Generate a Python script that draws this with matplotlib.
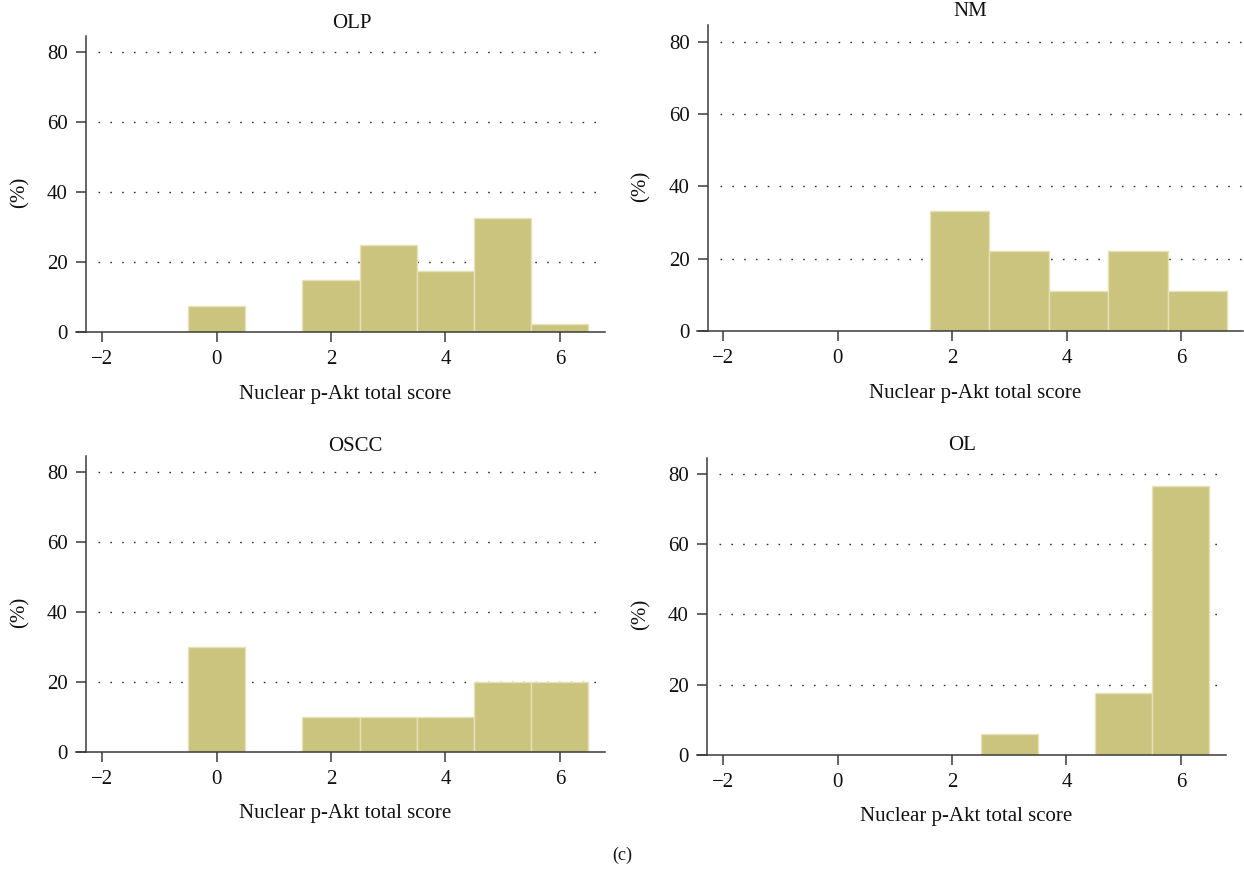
import matplotlib
matplotlib.use("Agg")
import matplotlib.pyplot as plt

plt.rcParams['font.family'] = ['Liberation Serif', 'DejaVu Serif']

# ---- data ----
titles = ["OLP", "NM", "OSCC", "OL"]
olp_scores = [0, 2, 3, 4, 5, 6]
olp_pct = [7.5, 15.0, 25.0, 17.5, 32.5, 2.5]
nm_bin_left = [1.61, 2.65, 3.69, 4.73, 5.77]
nm_pct = [33.3, 22.2, 11.1, 22.2, 11.1]
oscc_scores = [0, 2, 3, 4, 5, 6]
oscc_pct = [30.0, 10.0, 10.0, 10.0, 20.0, 20.0]
ol_scores = [3, 5, 6]
ol_pct = [5.9, 17.6, 76.5]
xticks = [-2, 0, 2, 4, 6]
yticks = [0, 20, 40, 60, 80]
xlabel = "Nuclear p-Akt total score"
ylabel = "(%)"
caption = "(c)"

BAR = "#cbc47f"
EDGE = "#e6e2b8"
AX = "#3a3a3a"

W, H = 1244, 869
fig = plt.figure(figsize=(W / 100, H / 100), dpi=100)

# pixel boxes: left, right, top, bottom
boxes = [
    (76, 605, 36, 332.3),
    (696.7, 1243, 25, 331.3),
    (76, 605, 456, 752),
    (697, 1226, 458.3, 754.7),
]
xlims = [(-2.46, 6.79), (-2.466, 7.085), (-2.46, 6.79), (-2.46, 6.79)]
ytops = [84.45, 84.6, 84.7, 84.5]
spine_x = [-2.285, -2.27, -2.29, -2.29]
title_pos = [(352, 24), (970, 12), (355, 446), (962, 445)]
xlabel_cx = [345, 975, 345, 966]

series = [
    (olp_scores, olp_pct, 1.0, 'center'),
    (nm_bin_left, nm_pct, 1.04, 'edge'),
    (oscc_scores, oscc_pct, 1.0, 'center'),
    (ol_scores, ol_pct, 1.0, 'center'),
]

FS = 15
for i, (l, r, t, b) in enumerate(boxes):
    ax = fig.add_axes([l / W, (H - b) / H, (r - l) / W, (b - t) / H])
    xs, ys, w, al = series[i]
    ax.bar(xs, ys, width=w, align=al, color=BAR, edgecolor=EDGE, linewidth=1.0, zorder=2)
    ax.set_xlim(*xlims[i])
    ax.set_ylim(0, ytops[i])
    # dotted gridlines
    for yv in yticks[1:]:
        ax.hlines(yv, spine_x[i] + 0.21, xlims[i][1], colors="#333333",
                  linestyles=(0, (1.2, 7.3)), linewidth=1.0, zorder=1)
    for s in ['top', 'right']:
        ax.spines[s].set_visible(False)
    ax.spines['left'].set_position(('data', spine_x[i]))
    for s in ['left', 'bottom']:
        ax.spines[s].set_color(AX)
        ax.spines[s].set_linewidth(1.1)
    ax.set_xticks(xticks)
    ax.set_xticklabels(["\u22122", "0", "2", "4", "6"])
    ax.set_yticks(yticks)
    ax.tick_params(axis='both', colors=AX, labelcolor="#111111", labelsize=FS,
                   length=7, width=1.1, direction='out')
    ax.tick_params(axis='y', pad=6)
    ax.tick_params(axis='x', pad=6)
    ax.set_xlabel(xlabel, fontsize=FS, color="#111111", labelpad=11)
    ax.xaxis.label.set_x((xlabel_cx[i] - l) / (r - l))
    tx, ty = title_pos[i]
    fig.text(tx / W, 1 - ty / H, titles[i], ha='center', va='center', fontsize=FS, color="#111111")
    # y label, centred on the 40 tick
    cy = b - (b - t) * 40 / ytops[i]
    fig.text((l - 56) / W, 1 - cy / H, ylabel, ha='center', va='center', rotation=90,
             fontsize=FS, color="#111111")

fig.text(622 / W, 1 - 855 / H, caption, ha='center', va='center', fontsize=13, color="#111111")

fig.savefig("out.png", dpi=100)
